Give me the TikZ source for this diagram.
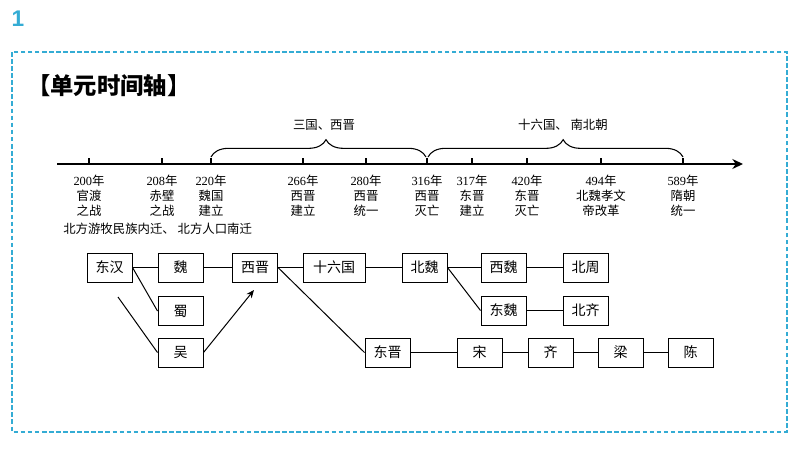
\documentclass[tikz,border=0pt]{standalone}
\usepackage{fontspec}
\setmainfont{Liberation Serif}
\newfontfamily\cjk{Noto Sans CJK SC}
\newfontfamily\numfont{Liberation Sans}
\usetikzlibrary{decorations.pathreplacing,arrows.meta}
\definecolor{framecol}{RGB}{52,172,212}
\newcommand{\yr}[1]{#1{\cjk 年}}
\begin{document}
\begin{tikzpicture}[x=0.75pt,y=-0.75pt,
  box/.style={draw,line width=0.75pt,minimum width=33.75pt,minimum height=21.75pt,inner sep=0pt,font=\cjk\fontsize{10.5}{12}\selectfont},
  tl/.style={align=center,inner sep=0pt,font=\fontsize{9.3}{11.4}\selectfont},
  con/.style={line width=0.75pt},
  tickmark/.style={line width=1.1pt},
  br/.style={line width=0.8pt,decorate},
  captext/.style={inner sep=0pt,font=\cjk\fontsize{9.3}{11}\selectfont}]
\useasboundingbox (0,0) rectangle (800,451);
% frame
\node[inner sep=0pt,anchor=center,text=framecol,font=\numfont\bfseries\fontsize{17}{20}\selectfont] (num) at (18,19) {1};
\draw[framecol,line width=0.8pt,dash pattern=on 3.5pt off 1.8pt] (12,52) rectangle (787,432);
\node[anchor=west,inner sep=0pt,font=\cjk\bfseries\fontsize{17.5}{20}\selectfont] (title) at (27,86) {【单元时间轴】};
% axis
\coordinate (axL) at (57,164);
\coordinate (axR) at (743,164);
\draw[line width=1.1pt,-{Stealth[length=8pt,width=7.5pt]}] (axL) -- (axR);
\foreach \x in {89,162,211,303,366,427,472,527,601,683} \draw[tickmark] (\x,158) -- (\x,164);
% labels
\node[tl] (t200) at (89,196) {\yr{200}\\{\cjk 官渡}\\{\cjk 之战}};
\node[tl] (t208) at (162,196) {\yr{208}\\{\cjk 赤壁}\\{\cjk 之战}};
\node[tl] (t220) at (211,196) {\yr{220}\\{\cjk 魏国}\\{\cjk 建立}};
\node[tl] (t266) at (303,196) {\yr{266}\\{\cjk 西晋}\\{\cjk 建立}};
\node[tl] (t280) at (366,196) {\yr{280}\\{\cjk 西晋}\\{\cjk 统一}};
\node[tl] (t316) at (427,196) {\yr{316}\\{\cjk 西晋}\\{\cjk 灭亡}};
\node[tl] (t317) at (472,196) {\yr{317}\\{\cjk 东晋}\\{\cjk 建立}};
\node[tl] (t420) at (527,196) {\yr{420}\\{\cjk 东晋}\\{\cjk 灭亡}};
\node[tl] (t494) at (601,196) {\yr{494}\\{\cjk 北魏孝文}\\{\cjk 帝改革}};
\node[tl] (t589) at (683,196) {\yr{589}\\{\cjk 隋朝}\\{\cjk 统一}};
% braces
\draw[br,decoration={brace,amplitude=13pt,aspect=0.535}] (211,157) -- (426,157);
\draw[br,decoration={brace,amplitude=13pt,aspect=0.53}] (428,157) -- (683,157);
\node[captext] (b1) at (324,125) {三国、西晋};
\node[captext] (b2) at (563,125) {十六国、\ 南北朝};
\node[captext,anchor=west] (mig) at (63,229) {北方游牧民族内迁、\ 北方人口南迁};
% boxes
\node[box] (dh) at (109.5,267.5) {东汉};
\node[box] (wei) at (180.5,267.5) {魏};
\node[box] (shu) at (180.5,311) {蜀};
\node[box] (wu) at (180.5,352.5) {吴};
\node[box] (xj) at (255,267.5) {西晋};
\node[box,minimum width=46.5pt] (sl) at (334,267.5) {十六国};
\node[box] (bw) at (424.5,267.5) {北魏};
\node[box] (xw) at (503.5,267.5) {西魏};
\node[box] (bz) at (585.5,267.5) {北周};
\node[box] (dw) at (503.5,310.5) {东魏};
\node[box] (bq) at (585.5,310.5) {北齐};
\node[box] (dj) at (387.5,352.5) {东晋};
\node[box] (song) at (479.5,352.5) {宋};
\node[box] (qi) at (550.5,352.5) {齐};
\node[box] (liang) at (620.5,352.5) {梁};
\node[box] (chen) at (690.5,352.5) {陈};
% connectors
\coordinate (wuS) at (118,297);
\coordinate (arrT) at (254,290);
\draw[con] (dh) -- (wei);
\draw[con] (dh.east) -- (shu.west);
\draw[con] (wuS) -- (wu.west);
\draw[con,-{Stealth[length=6pt,width=5pt]}] (wu.east) -- (arrT);
\draw[con] (wei) -- (xj);
\draw[con] (xj) -- (sl);
\draw[con] (xj.east) -- (dj.west);
\draw[con] (sl) -- (bw);
\draw[con] (bw) -- (xw);
\draw[con] (bw.east) -- (dw.west);
\draw[con] (xw) -- (bz);
\draw[con] (dw) -- (bq);
\draw[con] (dj) -- (song);
\draw[con] (song) -- (qi);
\draw[con] (qi) -- (liang);
\draw[con] (liang) -- (chen);
\end{tikzpicture}
\end{document}
